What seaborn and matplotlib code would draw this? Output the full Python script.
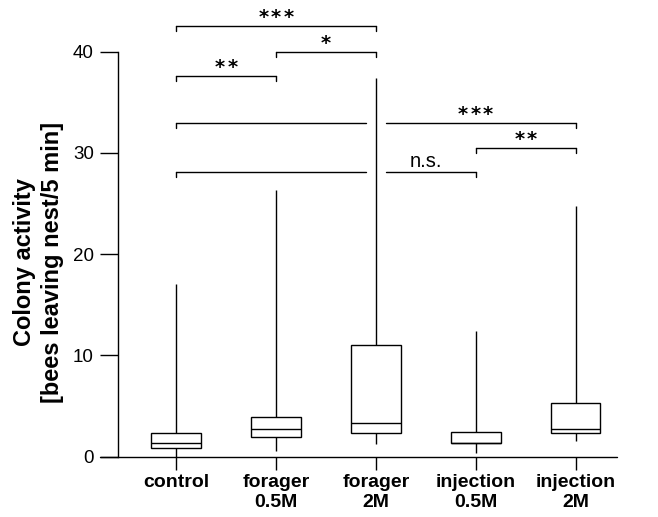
import matplotlib
matplotlib.use("Agg")
import matplotlib.pyplot as plt
import seaborn as sns
import pandas as pd
import numpy as np

# ---- data (five-number summaries) ----
categories = ["control", "forager\n0.5M", "forager\n2M", "injection\n0.5M", "injection\n2M"]
mins    = [0.0, 0.6, 1.22, 0.4, 1.6]
q1s     = [0.89, 1.94, 2.3, 1.31, 2.3]
medians = [1.35, 2.69, 3.28, 1.38, 2.72]
q3s     = [2.36, 3.97, 11.05, 2.4, 5.28]
maxs    = [17.1, 26.3, 37.4, 12.46, 24.8]

# significance brackets: (start idx, end idx, height, label, label x)
br_start = [0, 1, 0, 0, 3, 0]
br_end   = [2, 2, 1, 4, 4, 3]
br_y     = [42.51, 39.94, 37.60, 32.93, 30.46, 28.12]
br_text  = ["***", "*", "**", "***", "**", "n.s."]
br_tx    = [1.0, 1.5, 0.5, 3.0, 3.5, 2.5]

rows = []
for c, a, b, m, d, e in zip(categories, mins, q1s, medians, q3s, maxs):
    for v in (a, b, m, d, e):
        rows.append({"group": c, "value": v})
df = pd.DataFrame(rows)

sns.set_style("ticks")
plt.rcParams["font.family"] = ["Liberation Sans", "DejaVu Sans"]
plt.rcParams.update({"text.color": "black", "axes.labelcolor": "black",
                     "xtick.color": "black", "ytick.color": "black",
                     "axes.edgecolor": "black"})

fig = plt.figure(figsize=(6.58, 5.17), dpi=100)
W, H = 658, 517
ax_left, ax_right = 117.5, 617.0
y0_px, px_per_unit = 456.7, 10.125
ax = fig.add_axes([ax_left / W, (H - y0_px) / H, (ax_right - ax_left) / W, 45 * px_per_unit / H])

sns.boxplot(data=df, x="group", y="value", order=categories, ax=ax,
            whis=(0, 100), width=0.5, showcaps=False, fliersize=0,
            color="white", linecolor="black", linewidth=1.0, saturation=1,
            boxprops=dict(facecolor="white", edgecolor="black"),
            medianprops=dict(color="black"),
            whiskerprops=dict(color="black"))

ax.set_xlim(-(176.3 - ax_left) / 99.8, 4 + (ax_right - 575.5) / 99.8)
ax.set_ylim(0, 45)
ax.spines["top"].set_visible(False)
ax.spines["right"].set_visible(False)
ax.spines["bottom"].set_visible(False)
ax.spines["left"].set_bounds(0, 40)
ax.spines["left"].set_linewidth(1.0)
ax.spines["left"].set_color("black")
ax.axhline(0, xmin=-18 / (ax_right - ax_left), xmax=1, color="black", lw=1.0, clip_on=False)

ax.set_yticks([0, 10, 20, 30, 40])
ax.tick_params(axis="y", length=13, width=1.0, labelsize=13.5, pad=4,
               color="black", labelcolor="black")
ax.tick_params(axis="x", length=9.4, width=1.0, labelsize=14, pad=3,
               color="black", labelcolor="black")
for lab in ax.get_xticklabels():
    lab.set_fontweight("bold")
ax.set_xlabel("")
ax.set_ylabel("")

fig.text(38.5 / W, 1 - 262.5 / H, "Colony activity\n[bees leaving nest/5 min]",
         rotation=90, ha="center", va="center", fontsize=17, fontweight="bold",
         multialignment="center", linespacing=1.25, color="black")

drop = 0.45
gap_lo, gap_hi = 1.9, 2.1
star_step = 9.0  # points between individual stars
for s, e, y, t, tx in zip(br_start, br_end, br_y, br_text, br_tx):
    ax.plot([s, s], [y - drop, y], color="black", lw=1.0, clip_on=False)
    ax.plot([e, e], [y - drop, y], color="black", lw=1.0, clip_on=False)
    if s < 2 < e:
        ax.plot([s, gap_lo], [y, y], color="black", lw=1.0, clip_on=False)
        ax.plot([gap_hi, e], [y, y], color="black", lw=1.0, clip_on=False)
    else:
        ax.plot([s, e], [y, y], color="black", lw=1.0, clip_on=False)
    if t == "n.s.":
        ax.text(tx, y + 0.5, t, ha="center", va="baseline", fontsize=14.5, color="black")
    else:
        n = len(t)
        for k in range(n):
            off = (k - (n - 1) / 2) * star_step
            ax.annotate("*", xy=(tx, y + 0.3), xytext=(off, 0), textcoords="offset points",
                        ha="center", va="baseline", fontsize=14, fontweight="bold",
                        family="DejaVu Sans", color="black", annotation_clip=False)

fig.savefig("out.png", dpi=100)
